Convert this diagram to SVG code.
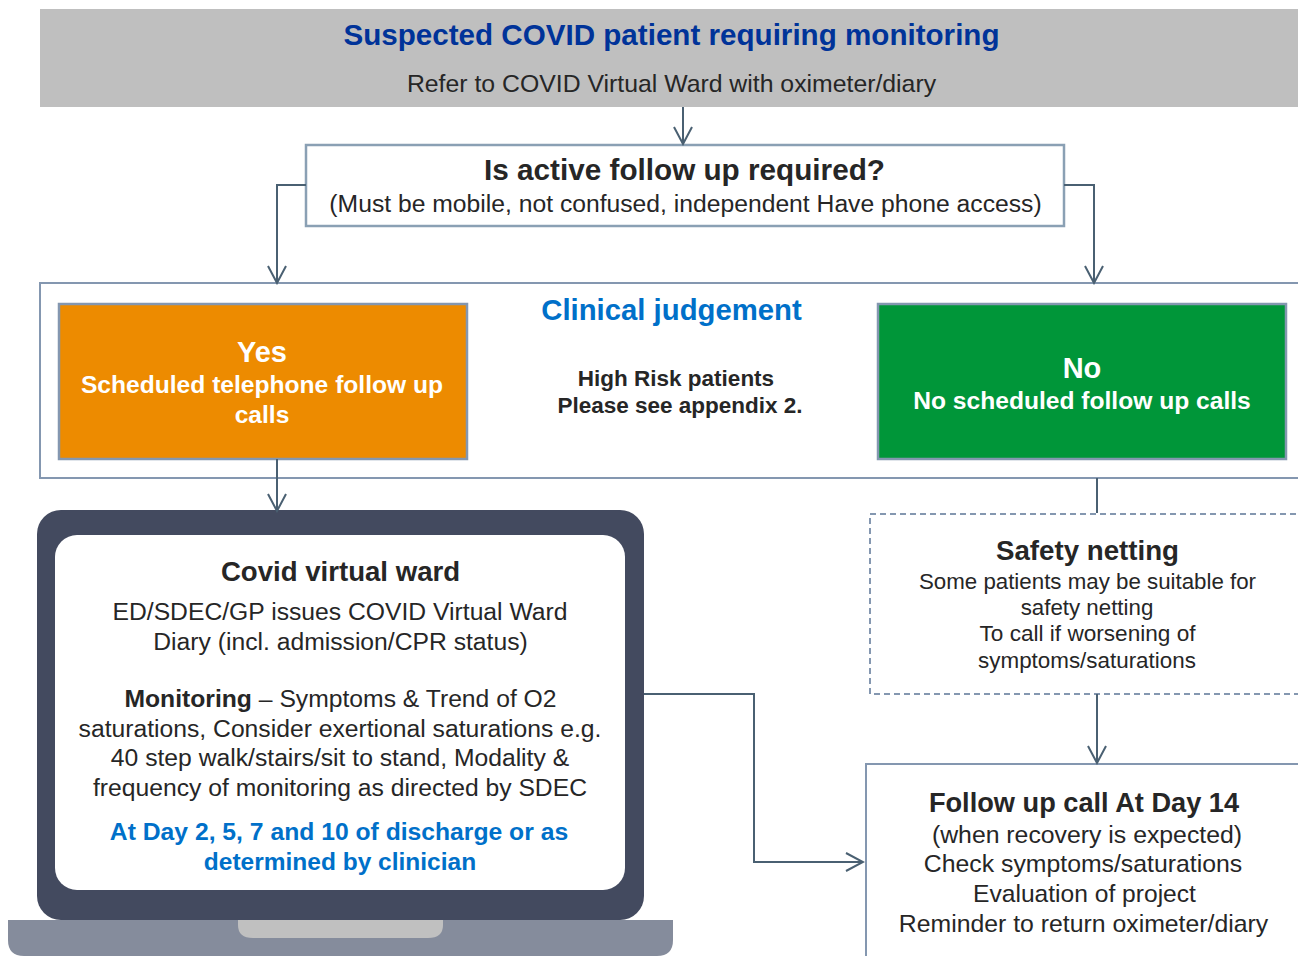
<svg xmlns="http://www.w3.org/2000/svg" width="1298" height="956" viewBox="0 0 1298 956">
<style>
text{font-family:"Liberation Sans",Arial,sans-serif;text-anchor:middle;fill:#262626}
.b{font-weight:700}
.w{fill:#fff}
.blue{fill:#0070c9}
.c{fill:none;stroke:#4a6072;stroke-width:2}
.box{fill:#fff;stroke:#8aa0b4;stroke-width:2.5}
.s{font-size:24.7px}
</style>
<defs><marker id="a" viewBox="0 0 20 20" refX="18" refY="10" markerWidth="20" markerHeight="20" markerUnits="userSpaceOnUse" orient="auto"><path d="M1 1L18 10L1 19" fill="none" stroke="#4a6072" stroke-width="2"/></marker></defs>
<rect width="1298" height="956" fill="#fff"/>
<g id="top"><rect x="40" y="9" width="1258" height="98" fill="#bfbfbf"/>
<text x="671.500" y="45" class="b" font-size="29.600" style="fill:#003399">Suspected COVID patient requiring monitoring</text>
<text x="671.500" y="92" font-size="24.800">Refer to COVID Virtual Ward with oximeter/diary</text></g>
<g id="question"><rect x="306" y="145" width="758" height="81" class="box"/>
<text x="684.500" y="180" class="b" font-size="29.700">Is active follow up required?</text>
<text x="685.500" y="212" font-size="24.700">(Must be mobile, not confused, independent Have phone access)</text></g>
<g id="judgement"><rect x="40" y="283" width="1270" height="195" fill="#fff" stroke="#8497b0" stroke-width="2"/>
<text x="671.500" y="320" class="b blue" font-size="29.300">Clinical judgement</text>
<text x="676" y="386" class="b" font-size="22.500">High Risk patients</text>
<text x="680" y="413" class="b" font-size="22.500">Please see appendix 2.</text></g>
<g id="yes"><rect x="59" y="304" width="408" height="155" fill="#ed8b00" stroke="#8497b0" stroke-width="2.500"/>
<text x="262" y="362" class="b w" font-size="29">Yes</text>
<text x="262" y="393" class="b w" font-size="24.600">Scheduled telephone follow up</text>
<text x="262" y="423" class="b w" font-size="24.600">calls</text></g>
<g id="no"><rect x="878" y="304" width="408" height="155" fill="#009639" stroke="#8497b0" stroke-width="2.500"/>
<text x="1082" y="378" class="b w" font-size="29">No</text>
<text x="1082" y="409" class="b w" font-size="24.600">No scheduled follow up calls</text></g>
<g id="laptop"><path d="M8 920H673V940Q673 956 657 956H24Q8 956 8 940Z" fill="#858c9c"/>
<path d="M238 920H443V925Q443 938 428 938H253Q238 938 238 925Z" fill="#c0c0c0"/>
<rect x="37" y="510" width="607" height="410" rx="24" fill="#434a5f"/>
<rect x="55" y="535" width="570" height="355" rx="22" fill="#fff"/>
<text x="340.500" y="581" class="b" font-size="27.600">Covid virtual ward</text>
<text x="340" y="620" class="s">ED/SDEC/GP issues COVID Virtual Ward</text>
<text x="340.500" y="650" class="s">Diary (incl. admission/CPR status)</text>
<text x="340.500" y="707" class="s"><tspan class="b">Monitoring</tspan> – Symptoms &amp; Trend of O2</text>
<text x="340" y="737" class="s">saturations, Consider exertional saturations e.g.</text>
<text x="340" y="766" class="s">40 step walk/stairs/sit to stand, Modality &amp;</text>
<text x="340" y="796" class="s">frequency of monitoring as directed by SDEC</text>
<text x="339" y="840" class="b blue" font-size="24.700">At Day 2, 5, 7 and 10 of discharge or as</text>
<text x="340" y="870" class="b blue" font-size="24.500">determined by clinician</text></g>
<g id="safety"><rect x="870" y="514" width="440" height="180" fill="#fff" stroke="#8497b0" stroke-width="2" stroke-dasharray="6 4"/>
<text x="1087.500" y="560" class="b" font-size="27.700">Safety netting</text>
<text x="1087.500" y="589" font-size="22.300">Some patients may be suitable for</text>
<text x="1087" y="615" font-size="22.300">safety netting</text>
<text x="1087.500" y="641" font-size="22.600">To call if worsening of</text>
<text x="1087" y="668" font-size="22.400">symptoms/saturations</text></g>
<g id="followup"><rect x="866" y="764" width="450" height="200" fill="#fff" stroke="#8497b0" stroke-width="2"/>
<text x="1084" y="812" class="b" font-size="27.200">Follow up call At Day 14</text>
<text x="1087" y="843" font-size="24.800">(when recovery is expected)</text>
<text x="1083" y="872" font-size="24.800">Check symptoms/saturations</text>
<text x="1084.500" y="902" font-size="24.600">Evaluation of project</text>
<text x="1083.500" y="932" font-size="24.800">Reminder to return oximeter/diary</text></g>
<g id="connectors">
<path class="c" d="M683 107V144" marker-end="url(#a)"/>
<path class="c" d="M306 185H277V283" marker-end="url(#a)"/>
<path class="c" d="M1064 185H1094V283" marker-end="url(#a)"/>
<path class="c" d="M277 459V511" marker-end="url(#a)"/>
<path class="c" d="M1097 478V513"/>
<path class="c" d="M1097 694V763" marker-end="url(#a)"/>
<path class="c" d="M644 694H754V862H863" marker-end="url(#a)"/>
</g>
</svg>
